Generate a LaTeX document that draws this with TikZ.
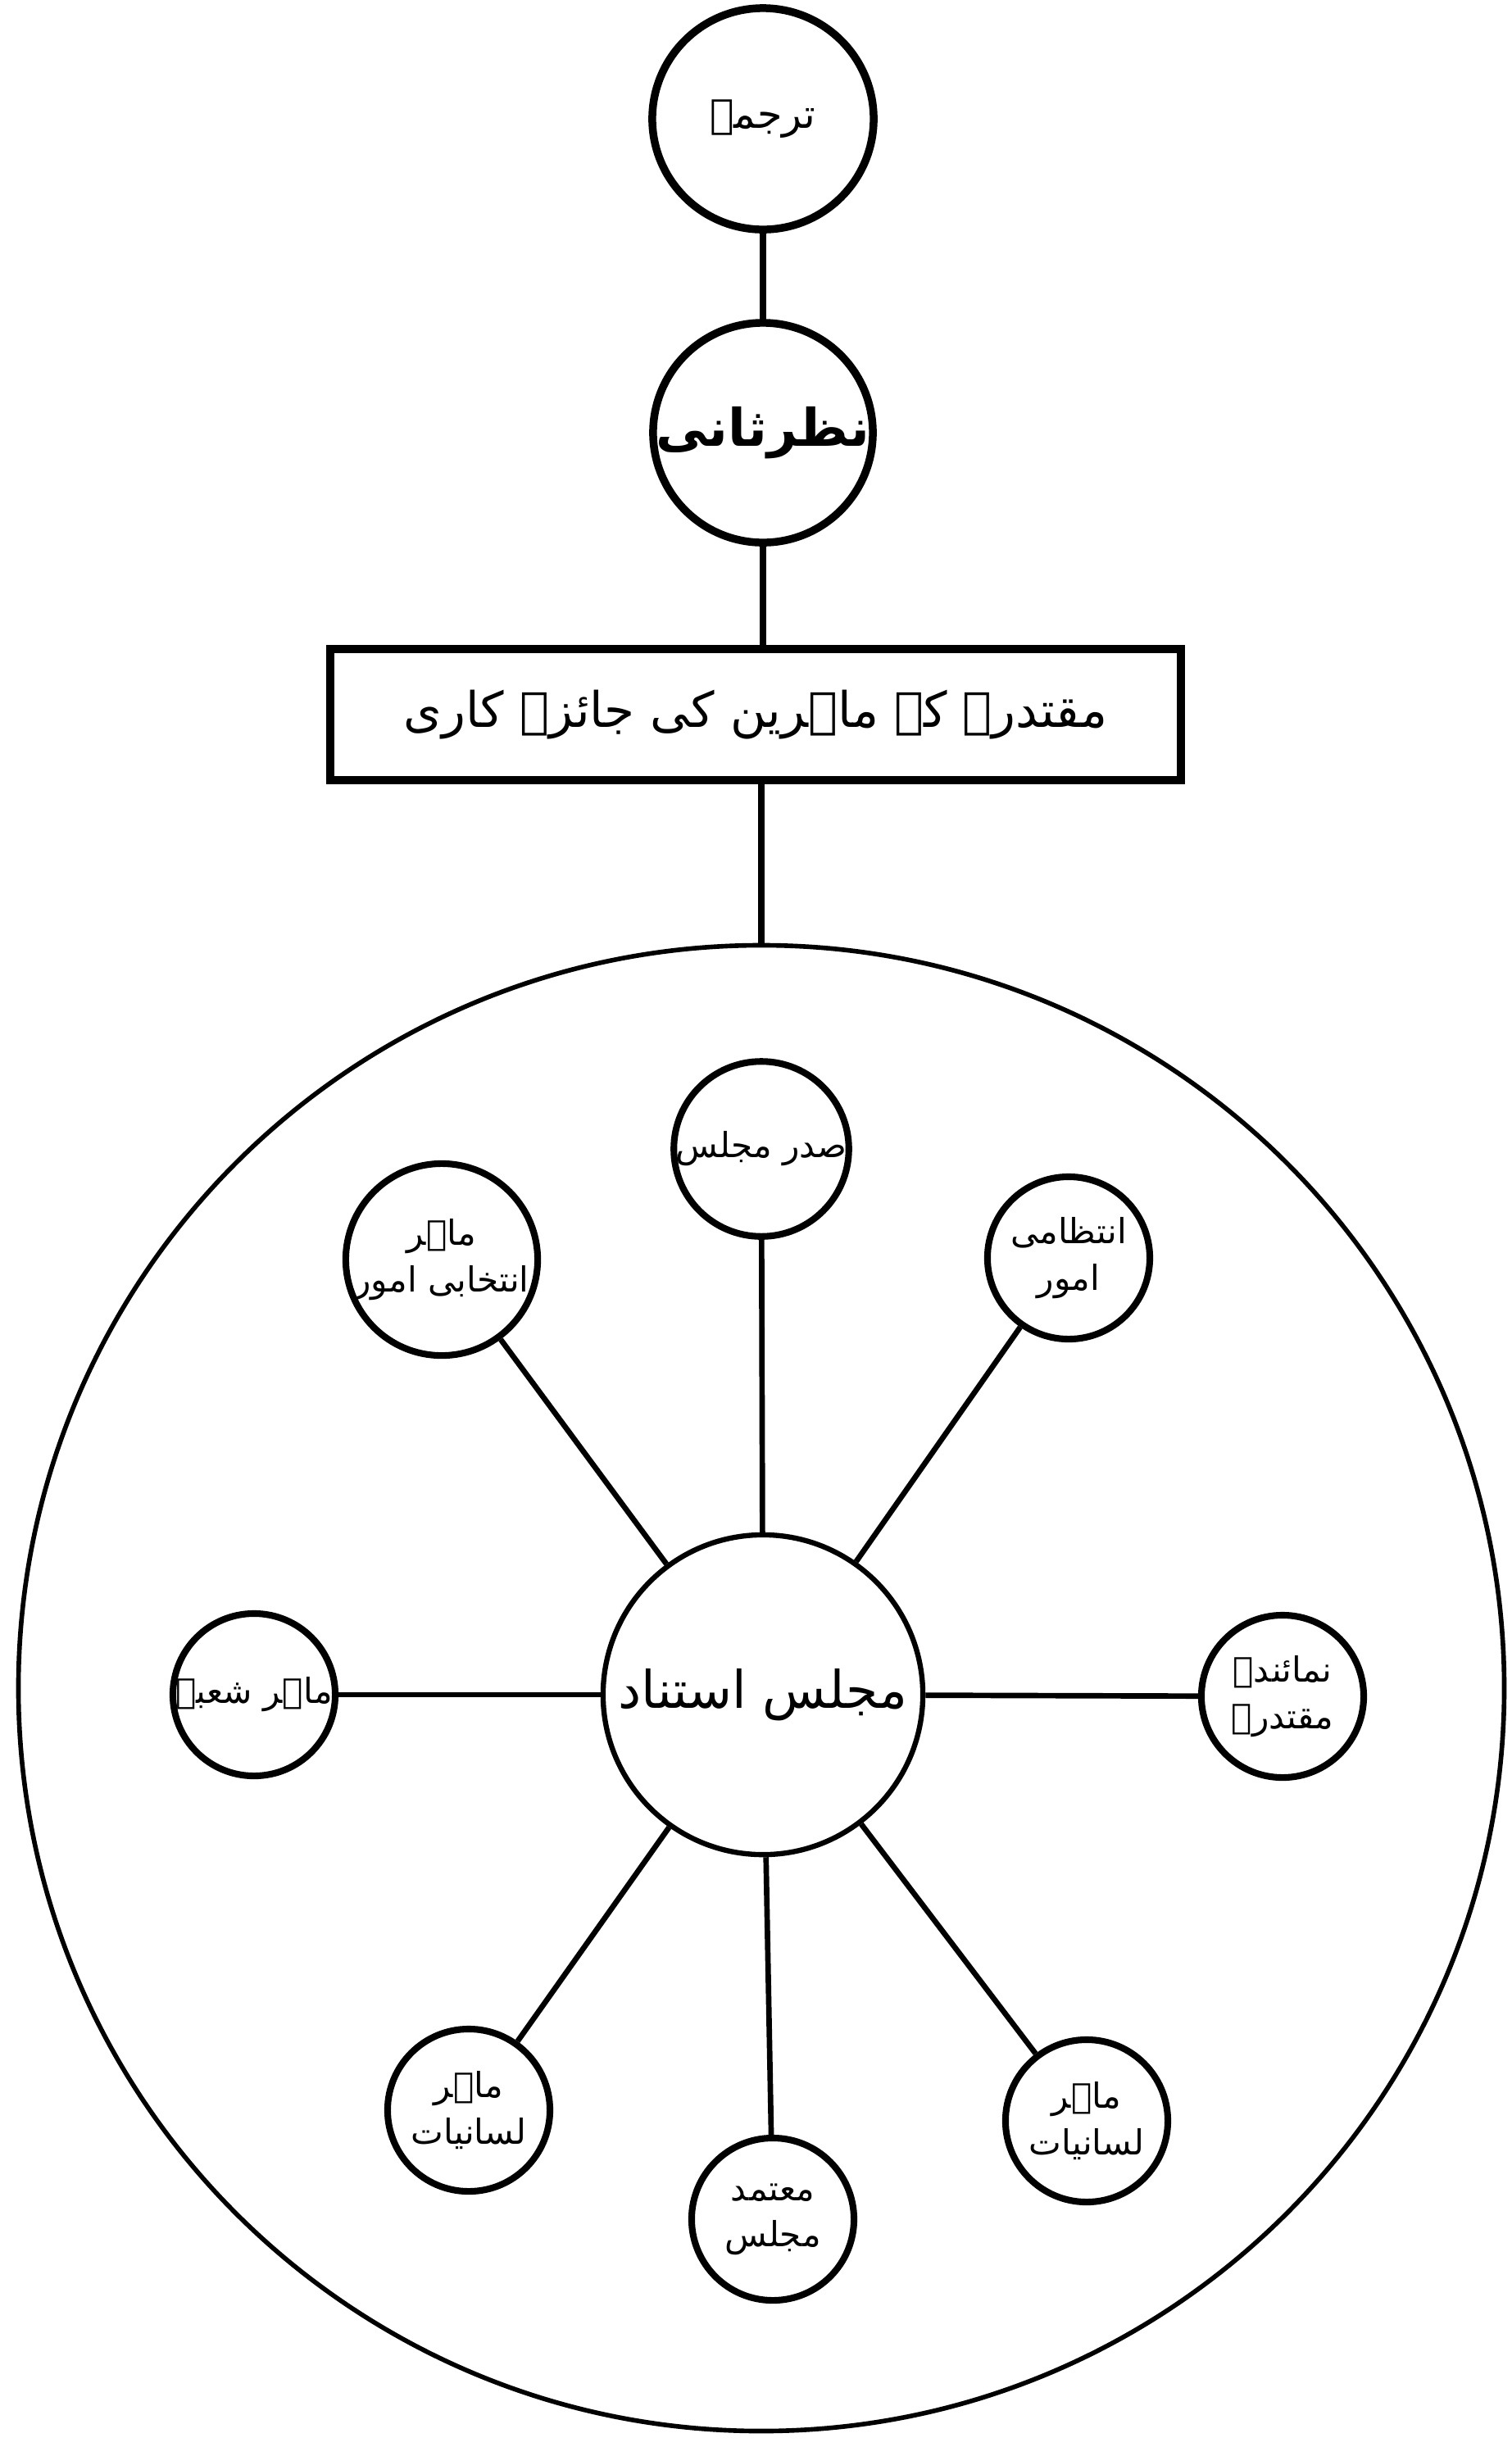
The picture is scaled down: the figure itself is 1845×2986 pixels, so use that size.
\documentclass[tikz,border=0pt]{standalone}
\usepackage{fontspec}
\newfontfamily\urdufont[Script=Arabic]{DejaVu Sans}
\TeXXeTstate=1
\newcommand{\rl}[1]{\beginR #1\endR}
\begin{document}
\begin{tikzpicture}[x=0.01cm, y=-0.01cm,
  bubble/.style={circle, draw, line width=2.7pt, fill=white, inner sep=0pt, align=center},
  sat/.style={circle, draw, line width=2.3pt, fill=white, minimum size=1.98cm, inner sep=0pt, align=center,
    font=\urdufont\fontsize{12}{16}\selectfont},
  link/.style={line width=2.3pt}]
\useasboundingbox (0,0) rectangle (1845,2986);
% top chain
\node[bubble, minimum size=2.7cm, font=\urdufont\fontsize{14}{18}\selectfont] (tarjuma) at (931,145) {\rl{ترجمہ}};
\node[bubble, minimum size=2.68cm, font=\urdufont\bfseries\fontsize{18}{22}\selectfont] (nazar) at (931,528) {\rl{نظرثانی}};
\node[draw, line width=2.8pt, minimum width=10.37cm, minimum height=1.6cm, inner sep=0pt,
  font=\urdufont\fontsize{17}{20}\selectfont] (box) at (922,872) {\rl{مقتدرہ کے ماہرین کی جائزہ کاری}};
% big circle
\node[circle, draw, line width=1.6pt, minimum size=18.12cm, inner sep=0pt] (big) at (929,2060) {};
% centre
\node[bubble, line width=1.8pt, minimum size=3.9cm, font=\urdufont\fontsize{18}{22}\selectfont] (majlis) at (931,2068) {\rl{مجلس استناد}};
% satellites
\node[sat] (sadr) at (929,1402) {\rl{صدر مجلس}};
\node[sat] (ul) at (539,1537) {\rl{ماہر}\\\rl{انتخابی امور}};
\node[sat] (ur) at (1304,1535) {\rl{انتظامی}\\\rl{امور}};
\node[sat] (left) at (310,2068) {\rl{ماہر شعبہ}};
\node[sat] (right) at (1565,2070) {\rl{نمائندہ}\\\rl{مقتدرہ}};
\node[sat] (ll) at (572,2575) {\rl{ماہر}\\\rl{لسانیات}};
\node[sat] (bot) at (943,2708) {\rl{معتمد}\\\rl{مجلس}};
\node[sat] (lr) at (1326,2588) {\rl{ماہر}\\\rl{لسانیات}};
% connectors
\draw[link] (tarjuma) -- (nazar);
\draw[link] (nazar) -- (nazar |- box.north);
\draw[link] (box.south -| big.north) -- (big.north);
\foreach \s in {sadr,ul,ur,left,right,ll,bot,lr}
  \draw[link, line width=1.9pt] (majlis) -- (\s);
\end{tikzpicture}
\end{document}
